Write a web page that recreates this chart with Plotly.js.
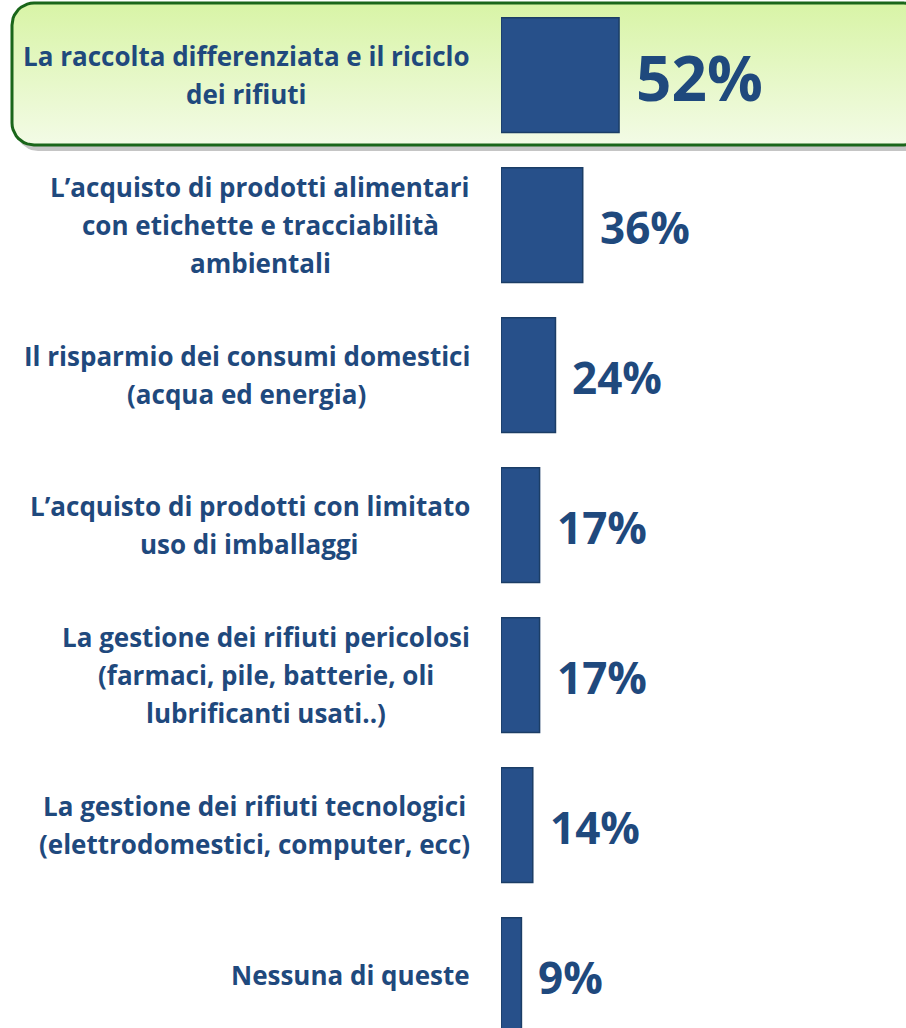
<!DOCTYPE html>
<html>
<head>
<meta charset="utf-8">
<script src="https://cdn.plot.ly/plotly-3.0.1.min.js"></script>
<style>html,body{margin:0;padding:0;background:#fff}#chart{width:906px;height:1028px}</style>
</head>
<body>
<div id="chart"></div>
<script>
// ---- data ----
var categories = [
  "La raccolta differenziata e il riciclo<br>dei rifiuti",
  "L’acquisto di prodotti alimentari<br>con etichette e tracciabilità<br>ambientali",
  "Il risparmio dei consumi domestici<br>(acqua ed energia)",
  "L’acquisto di prodotti con limitato<br>uso di imballaggi",
  "La gestione dei rifiuti pericolosi<br>(farmaci, pile, batterie, oli<br>lubrificanti usati..)",
  "La gestione dei rifiuti tecnologici<br>(elettrodomestici, computer, ecc)",
  "Nessuna di queste"
];
var values = [52, 36, 24, 17, 17, 14, 9];
var valueLabels = ["52%", "36%", "24%", "17%", "17%", "14%", "9%"];
var highlightIndex = 0;

// ---- styling ----
var W = 906, H = 1028;
var textColor = "#1F497D";
var barColor = "#27508A";
var labelFont = "'Open Sans', sans-serif";
var valueFont = "'Open Sans', sans-serif";
var labelRight = 470;
var lineStep = 38;

var idx = values.map(function(v, i){ return i; });

// rounded highlight box (decoration) in pixel space of a hidden full-page subplot
function roundRect(x0, y0, x1, y1, r) {
  var xs = [], ys = [];
  function arc(cx, cy, a0, a1) {
    for (var k = 0; k <= 10; k++) {
      var a = a0 + (a1 - a0) * k / 10;
      xs.push(cx + r * Math.cos(a)); ys.push(cy + r * Math.sin(a));
    }
  }
  arc(x1 - r, y0 + r, -Math.PI / 2, 0);
  arc(x1 - r, y1 - r, 0, Math.PI / 2);
  arc(x0 + r, y1 - r, Math.PI / 2, Math.PI);
  arc(x0 + r, y0 + r, Math.PI, 1.5 * Math.PI);
  xs.push(xs[0]); ys.push(ys[0]);
  return {x: xs, y: ys};
}
var boxTop = 3, boxBot = 145;
var shadow = roundRect(16, boxTop + 6, 930, boxBot + 6, 22);
var box = roundRect(12, boxTop, 926, boxBot, 22);

var traces = [
  {
    type: "scatter", mode: "lines", x: shadow.x, y: shadow.y, xaxis: "x", yaxis: "y",
    fill: "toself", fillcolor: "rgba(90,90,90,0.35)", line: {width: 0, color: "rgba(0,0,0,0)"},
    hoverinfo: "skip", showlegend: false
  },
  {
    type: "scatter", mode: "lines", x: box.x, y: box.y, xaxis: "x", yaxis: "y",
    fill: "toself",
    fillgradient: {type: "vertical", colorscale: [[0, "#F3FBE6"], [1, "#D8F4A6"]]},
    line: {width: 3, color: "#1A661A"},
    hoverinfo: "skip", showlegend: false
  },
  {
    type: "bar", orientation: "h", x: values, y: idx, xaxis: "x2", yaxis: "y2",
    marker: {color: barColor, line: {color: "#1B3D66", width: 1.5}},
    width: 0.765, hoverinfo: "skip", showlegend: false
  }
];

// measure text widths for centered multi-line labels
var cv = document.createElement("canvas").getContext("2d");
function measure(txt, size) {
  cv.font = "bold " + size + "px " + labelFont;
  return cv.measureText(txt).width;
}

var annotations = [];
categories.forEach(function(cat, i) {
  var lines = cat.split("<br>");
  var size = 26;
  var wmax = 0;
  lines.forEach(function(l){ wmax = Math.max(wmax, measure(l, size)); });
  var cx = labelRight - wmax / 2;
  lines.forEach(function(l, k) {
    annotations.push({
      xref: "paper", yref: "y2", x: cx / W, y: i,
      xanchor: "center", yanchor: "middle",
      yshift: -((k - (lines.length - 1) / 2) * lineStep),
      text: l, showarrow: false,
      font: {family: labelFont, size: size, color: textColor, weight: "bold"}
    });
  });
  annotations.push({
    xref: "x2", yref: "y2", x: values[i], y: i,
    xanchor: "left", yanchor: "middle", xshift: 15, yshift: -2,
    text: valueLabels[i], showarrow: false,
    font: {family: valueFont, size: (i === highlightIndex) ? 62 : 44, color: textColor, weight: "bold"}
  });
});

var layout = {
  width: W, height: H,
  margin: {l: 0, r: 0, t: 0, b: 0, pad: 0},
  paper_bgcolor: "#ffffff", plot_bgcolor: "rgba(0,0,0,0)",
  showlegend: false,
  xaxis: {domain: [0, 1], range: [0, W], visible: false, fixedrange: true},
  yaxis: {domain: [0, 1], range: [H, 0], visible: false, fixedrange: true},
  xaxis2: {domain: [501 / W, 1], range: [0, 178.4], visible: false, fixedrange: true, anchor: "y2"},
  yaxis2: {domain: [0, 1], range: [6.353, -0.5], visible: false, fixedrange: true, anchor: "x2"},
  annotations: annotations
};

Plotly.newPlot("chart", traces, layout, {staticPlot: true, displayModeBar: false});
</script>
</body>
</html>
